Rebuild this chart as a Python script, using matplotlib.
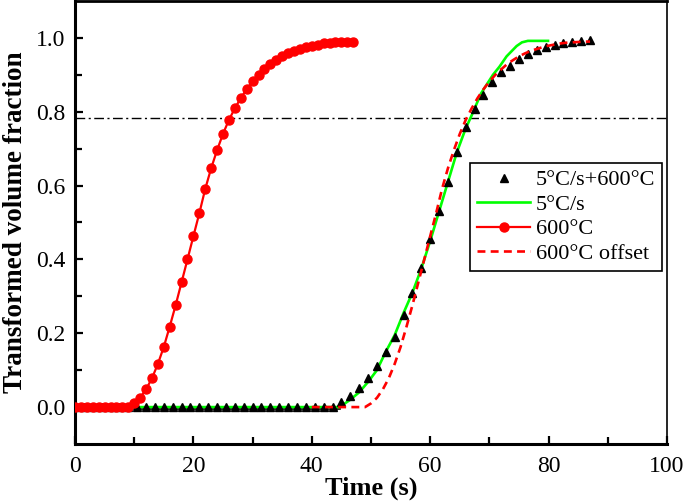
import numpy as np
import matplotlib
matplotlib.use("Agg")
import matplotlib.pyplot as plt
from matplotlib import transforms

plt.rcParams['font.family'] = ['Liberation Serif', 'DejaVu Serif']
plt.rcParams['mathtext.fontset'] = 'stix'

# ---- data ----
# 600°C isothermal (red circles), 1 s sampling
t_600 = list(range(0, 48))
f_600 = [0.0] * 10 + [
    0.010, 0.025, 0.048, 0.078, 0.117, 0.163, 0.218, 0.276, 0.338, 0.400,
    0.463, 0.525, 0.591, 0.647, 0.696, 0.740, 0.778, 0.809, 0.837, 0.861,
    0.882, 0.900, 0.915, 0.929, 0.940, 0.950, 0.958, 0.965, 0.970, 0.975,
    0.979, 0.982, 0.985, 0.987, 0.988, 0.989, 0.990, 0.990]

# shift of the 600°C curve (s)
offset_s = 40

# 5°C/s + 600°C (black triangles), 1.5 s sampling
t_comb = list(np.arange(0, 88, 1.5))
f_comb = [0.0] * 30 + [
    0.015, 0.030, 0.052, 0.080, 0.112, 0.148, 0.190, 0.250, 0.310, 0.378,
    0.455, 0.532, 0.611, 0.690, 0.758, 0.807, 0.846, 0.880, 0.907, 0.925,
    0.943, 0.957, 0.967, 0.975, 0.980, 0.985, 0.989, 0.992, 0.994]

# 5°C/s (green line)
t_5 = [10, 44.7, 46.5, 48, 49.5, 51, 52.5, 54, 54.5, 55.5, 57, 58.5, 60,
       61.5, 63, 64.5, 66, 67, 68.6, 70.6, 71.7, 72.9, 74.6, 75.5, 76.5, 79.9]
f_5 = [0, 0, 0.02, 0.04, 0.068, 0.10, 0.150, 0.195, 0.215, 0.255, 0.31, 0.375,
       0.45, 0.53, 0.61, 0.69, 0.755, 0.79, 0.85, 0.90, 0.922, 0.950, 0.978,
       0.988, 0.992, 0.992]

ref_level = 0.783

xticks = [0, 20, 40, 60, 80, 100]
yticks = [0.0, 0.2, 0.4, 0.6, 0.8, 1.0]

# ---- figure ----
fig = plt.figure(figsize=(6.85, 5.04), dpi=100)
ax = fig.add_axes([75 / 685, 1 - 444 / 504, 592 / 685, 443 / 504])

# black underline beneath the flat part of green curve
t5a = np.array(t_5); f5a = np.array(f_5)
mask = f5a == 0
off = transforms.offset_copy(ax.transData, fig=fig, x=0, y=-1.5, units='dots')
ax.plot(t5a[mask], f5a[mask], color='black', lw=1.2, transform=off, zorder=1)

ax.plot(t_5, f_5, color='#00ff00', lw=1.9, zorder=2, label='5°C/s')
ax.plot(t_comb, f_comb, linestyle='none', marker='^', color='black',
        markersize=5.8, zorder=3, label='5°C/s+600°C')
ax.plot(np.array(t_600) + offset_s, f_600, color='#ff0000', lw=1.9,
        linestyle=(0, (3, 2)), zorder=4, label='600°C offset')
ax.plot(t_600, f_600, color='#ff0000', lw=1.6, marker='o', markersize=6.5,
        zorder=5, label='600°C')

ax.axhline(ref_level, color='black', lw=1.0,
           linestyle=(0, (7, 2.5, 1.5, 2.5)), zorder=1)

ax.set_xlim(0, 100)
ax.set_ylim(-0.1, 1.1)
ax.set_xticks(xticks)
ax.set_xticklabels([str(v) for v in xticks])
ax.set_yticks(yticks)
ax.set_yticklabels([f"{v:.1f}" for v in yticks])
ax.set_xticks(np.arange(10, 100, 20), minor=True)
ax.set_yticks([-0.1 + 0.2 * i for i in range(1, 6)], minor=True)

ax.tick_params(axis='both', which='major', direction='in', length=6,
               width=1.6, labelsize=17, pad=7, top=False, right=False)
ax.tick_params(axis='both', which='minor', direction='in', length=5,
               width=1.6, top=False, right=False)
ax.tick_params(axis='x', which='major', pad=9)

for s in ['left', 'bottom']:
    ax.spines[s].set_linewidth(2.2)
ax.spines['top'].set_linewidth(2.0)
ax.spines['right'].set_linewidth(1.2)

ax.set_xlabel('Time (s)', fontsize=19, fontweight='bold', labelpad=-1)
ax.set_ylabel('Transformed volume fraction', fontsize=19.5, fontweight='bold',
              labelpad=6)

h, l = ax.get_legend_handles_labels()
order = ['5°C/s+600°C', '5°C/s', '600°C', '600°C offset']
hh = [h[l.index(o)] for o in order]
leg = ax.legend(hh, order, loc='upper right',
                bbox_to_anchor=(0.9916, 0.634), fontsize=16,
                frameon=True, fancybox=False, edgecolor='black',
                framealpha=1, borderpad=0.3, labelspacing=0.18,
                handlelength=2.4, handletextpad=0.25, borderaxespad=0,
                numpoints=1)
leg.get_frame().set_linewidth(1.2)
leg.set_zorder(10)

fig.savefig('out.png', dpi=100)
